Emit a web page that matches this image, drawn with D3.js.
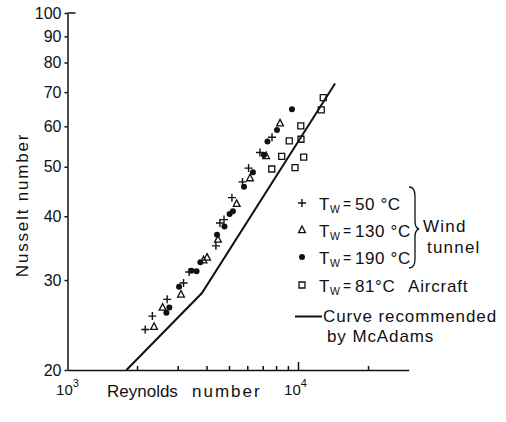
<!DOCTYPE html>
<html>
<head>
<meta charset="utf-8">
<script src="https://cdn.jsdelivr.net/npm/d3@7"></script>
<style>
  body { margin: 0; background: #fff; }
  text { font-family: "Liberation Sans", Arial, sans-serif; fill: #111; }
</style>
</head>
<body>
<div id="chart"></div>
<script>
// Tw = 50 C (wind tunnel)
var re50 = [2170, 2330, 2700, 3180, 3360, 4390, 4570, 4760, 5150, 5720, 6080, 6810, 7680];
var nu50 = [24.0, 25.5, 27.5, 29.6, 31.1, 35.0, 38.8, 39.4, 43.5, 46.7, 49.7, 53.3, 57.1];
// Tw = 130 C (wind tunnel)
var re130 = [2370, 2580, 3100, 3880, 4020, 4480, 5400, 6170, 7240, 8320];
var nu130 = [24.3, 26.5, 28.1, 32.8, 33.2, 36.0, 42.3, 47.5, 52.5, 60.8];
// Tw = 190 C (wind tunnel)
var re190 = [2680, 2760, 3040, 3440, 3620, 3760, 4440, 4780, 5030, 5200, 5810, 6350, 7090, 7340, 8070, 9370];
var nu190 = [25.9, 26.5, 29.1, 31.3, 31.2, 32.5, 36.8, 38.2, 40.4, 40.9, 45.7, 48.8, 52.7, 56.0, 59.0, 64.8];
// Tw = 81 C (aircraft)
var re81 = [7660, 8460, 9120, 9660, 10250, 10230, 10530, 12550, 12800];
var nu81 = [49.5, 52.4, 56.2, 49.8, 56.6, 60.1, 52.2, 64.6, 68.3];
// curve recommended by McAdams
var mcRe = [1800, 3820, 14400];
var mcNu = [20, 28.3, 72.8];

var yTicks = [20, 30, 40, 50, 60, 70, 80, 90, 100];
var xMinorTicks = [2000, 3000, 4000, 5000, 6000, 7000, 8000, 9000, 20000];
var legendVals = ["50 °C", "130 °C", "190 °C", "81°C"];

var svgWidth = 506, svgHeight = 422;

var svg = d3.select('#chart')
    .append('svg')
    .attr('width', svgWidth)
    .attr('height', svgHeight);

var x = d3.scaleLog().domain([1000, 30000]).range([67.5, 408.7]);
var y = d3.scaleLog().domain([20, 100]).range([370, 13]);

// y axis
var leftAxis = d3.axisLeft(y)
    .tickValues(yTicks)
    .tickFormat(d3.format('d'))
    .tickSize(3)
    .tickSizeOuter(0)
    .tickPadding(3);

var gy = svg.append('g')
    .attr('transform', 'translate(67.5,0)')
    .call(leftAxis);
gy.selectAll('path, line').attr('stroke', '#111').attr('stroke-width', 1.5);
gy.selectAll('text').style('font-size', '16px').attr('fill', '#111');

// top cap of y axis
svg.append('line')
    .attr('x1', x(1000)).attr('x2', x(1000) + 8)
    .attr('y1', y(100)).attr('y2', y(100))
    .attr('stroke', '#111').attr('stroke-width', 1.5);

// x axis (ticks point inward)
var bottomAxis = d3.axisTop(x)
    .tickValues(xMinorTicks)
    .tickFormat('')
    .tickSize(4)
    .tickSizeOuter(0);

var gx = svg.append('g')
    .attr('transform', 'translate(0,370)')
    .call(bottomAxis);
gx.selectAll('path, line').attr('stroke', '#111').attr('stroke-width', 1.5);

gx.append('line')
    .attr('x1', x(10000)).attr('x2', x(10000))
    .attr('y1', 0).attr('y2', -8)
    .attr('stroke', '#111').attr('stroke-width', 1.5);

// decade labels
[[1000, '3', 0], [10000, '4', -3]].forEach(function(d) {
    var t = svg.append('text')
        .attr('x', x(d[0]) + d[2])
        .attr('y', 395)
        .attr('text-anchor', 'middle')
        .style('font-size', '15px');
    t.append('tspan').text('10');
    t.append('tspan')
        .attr('dy', -8)
        .style('font-size', '11px')
        .text(d[1]);
});

// axis titles
var xt = svg.append('text')
    .attr('y', 397)
    .style('font-size', '17px');
xt.append('tspan').attr('x', 107).attr('letter-spacing', 0).text('Reynolds');
xt.append('tspan').attr('x', 192).attr('letter-spacing', 2).text('number');

svg.append('text')
    .attr('transform', 'translate(28,205) rotate(-90)')
    .attr('text-anchor', 'middle')
    .attr('letter-spacing', 1.8)
    .style('font-size', '17px')
    .text('Nusselt number');

// McAdams curve
var line = d3.line()
    .x(function(d, i) { return x(mcRe[i]); })
    .y(function(d, i) { return y(mcNu[i]); });

svg.append('path')
    .datum(mcRe)
    .attr('d', line)
    .attr('fill', 'none')
    .attr('stroke', '#111')
    .attr('stroke-width', 2);

// markers
var plusPath = 'M-4,0H4M0,-4V4';
var triPath = 'M0,-4L3.4,2.6L-3.4,2.6Z';
var sqPath = 'M-3,-3H3V3H-3Z';

function drawSeries(res, nus, cls, draw) {
    var g = svg.append('g').attr('class', cls);
    g.selectAll('.m')
        .data(res)
        .enter()
        .append(draw.tag)
        .attr('class', 'm')
        .each(function(d, i) {
            var el = d3.select(this);
            if (draw.tag === 'circle') {
                el.attr('cx', x(d)).attr('cy', y(nus[i])).attr('r', 3);
            } else {
                el.attr('transform', 'translate(' + x(d) + ',' + y(nus[i]) + ')')
                  .attr('d', draw.d);
            }
        })
        .attr('fill', draw.fill)
        .attr('stroke', '#111')
        .attr('stroke-width', draw.sw);
}

drawSeries(re81, nu81, 'sq', { tag: 'path', d: sqPath, fill: 'none', sw: 1.3 });
drawSeries(re130, nu130, 'tri', { tag: 'path', d: triPath, fill: 'none', sw: 1.3 });
drawSeries(re190, nu190, 'dot', { tag: 'circle', fill: '#111', sw: 0 });
drawSeries(re50, nu50, 'plus', { tag: 'path', d: plusPath, fill: 'none', sw: 1.4 });

// legend
var legY = [203, 230, 257, 285];
var legShapes = [
    { tag: 'path', d: plusPath, fill: 'none', sw: 1.4 },
    { tag: 'path', d: triPath, fill: 'none', sw: 1.3 },
    { tag: 'circle', fill: '#111', sw: 0 },
    { tag: 'path', d: sqPath, fill: 'none', sw: 1.3 }
];

legY.forEach(function(ly, i) {
    var s = legShapes[i];
    if (s.tag === 'circle') {
        svg.append('circle').attr('cx', 302).attr('cy', ly).attr('r', 3).attr('fill', '#111');
    } else {
        svg.append('path')
            .attr('transform', 'translate(302,' + ly + ')')
            .attr('d', s.d)
            .attr('fill', s.fill)
            .attr('stroke', '#111')
            .attr('stroke-width', s.sw);
    }
    var base = ly + 6.5;
    svg.append('text').attr('x', 319).attr('y', base).style('font-size', '17px').text('T');
    svg.append('text').attr('x', 330).attr('y', base + 3.5).style('font-size', '10.5px').text('W');
    svg.append('text').attr('x', 343).attr('y', base - 1).style('font-size', '14px').text('=');
    svg.append('text').attr('x', 355).attr('y', base).style('font-size', '17px')
        .attr('letter-spacing', 0.6).text(legendVals[i]);
});

svg.append('text').attr('x', 408).attr('y', 291.5).style('font-size', '17px')
    .attr('letter-spacing', 0.8).text('Aircraft');

// brace
svg.append('path')
    .attr('d', 'M409,187 Q415,187 415,196 L415,221 Q415,228 419,229 Q415,230 415,237 L415,259 Q415,268 409,268')
    .attr('fill', 'none')
    .attr('stroke', '#111')
    .attr('stroke-width', 1.3);

svg.append('text').attr('x', 423).attr('y', 231.5).style('font-size', '17px')
    .attr('letter-spacing', 1.2).text('Wind');
svg.append('text').attr('x', 427).attr('y', 253).style('font-size', '17px')
    .attr('letter-spacing', 1.2).text('tunnel');

svg.append('line')
    .attr('x1', 295).attr('x2', 322)
    .attr('y1', 316.5).attr('y2', 316.5)
    .attr('stroke', '#111').attr('stroke-width', 2);
svg.append('text').attr('x', 323).attr('y', 321.5).style('font-size', '17px')
    .attr('letter-spacing', 0.9).text('Curve recommended');
svg.append('text').attr('x', 327).attr('y', 341.5).style('font-size', '17px')
    .attr('letter-spacing', 0.9).text('by McAdams');
</script>
</body>
</html>
